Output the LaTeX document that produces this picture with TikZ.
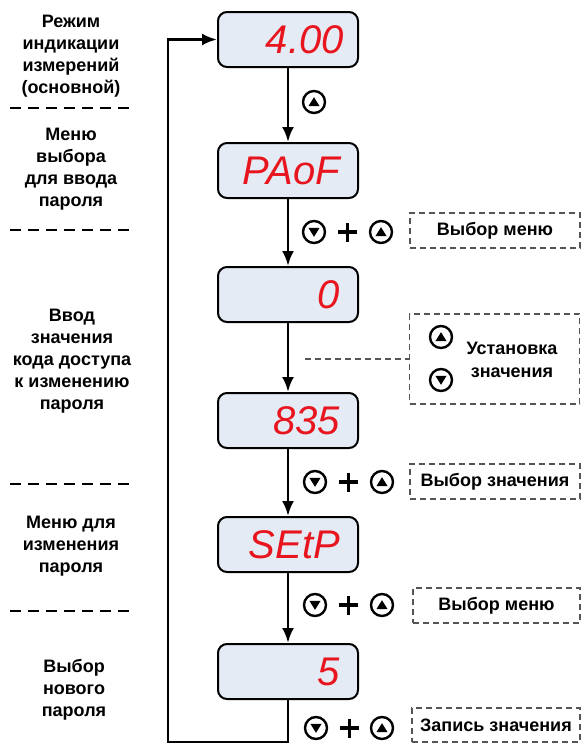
\documentclass[tikz,border=0pt]{standalone}
\usepackage{fontspec}
\setmainfont{Liberation Sans}
\usetikzlibrary{arrows.meta,calc}
\definecolor{segred}{HTML}{E8141E}
\definecolor{dispfill}{HTML}{E4EBF4}
\definecolor{dashgray}{HTML}{555555}
\begin{document}
\begin{tikzpicture}[x=1pt,y=-1pt,
  disp/.style={draw, line width=2pt, rounded corners=9pt, fill=dispfill, minimum width=140pt, minimum height=55pt, inner sep=0pt},
  seg/.style={text=segred, font=\fontsize{40}{40}\selectfont\itshape, anchor=base east, inner sep=0pt},
  flow/.style={line width=2.8pt, -{Latex[length=15pt,width=12pt]}},
  lbl/.style={align=center, font=\bfseries\fontsize{18}{22}\selectfont, inner sep=0pt},
  sep/.style={line width=1.8pt, dash pattern=on 11pt off 7pt},
  hint/.style={draw=dashgray, line width=1.4pt, dash pattern=on 6pt off 4pt, font=\bfseries\fontsize{18}{20}\selectfont, inner sep=0pt},
  hintline/.style={draw=dashgray, line width=1.4pt, dash pattern=on 6pt off 4pt},
  btn/.style={circle, draw, line width=2.4pt, minimum size=22pt, inner sep=0pt},
  btnup/.style={btn, path picture={\fill ([yshift=4.8pt]path picture bounding box.center) -- ++(-5.6pt,-9pt) -- ++(11.2pt,0pt) -- cycle;}},
  btndn/.style={btn, path picture={\fill ([yshift=-4.8pt]path picture bounding box.center) -- ++(-5.6pt,9pt) -- ++(11.2pt,0pt) -- cycle;}},
  plusmark/.style={minimum size=19pt, inner sep=0pt, path picture={
      \draw[line width=3.6pt] ([xshift=-9.5pt]path picture bounding box.center) -- ([xshift=9.5pt]path picture bounding box.center);
      \draw[line width=3.6pt] ([yshift=-9.5pt]path picture bounding box.center) -- ([yshift=9.5pt]path picture bounding box.center);}}
]
\useasboundingbox (0,0) rectangle (581,744);

% displays
\node[disp] (d1) at (288,39.5) {};
\node[disp] (d2) at (288,170.5) {};
\node[disp] (d3) at (288,294.5) {};
\node[disp] (d4) at (288,420.5) {};
\node[disp] (d5) at (288,544.5) {};
\node[disp] (d6) at (288,671.5) {};
\node[seg] (t1) at (344,53.8) {4.00};
\node[seg] (t2) at (340,184.8) {PAoF};
\node[seg] (t3) at (340,308.8) {0};
\node[seg] (t4) at (340,434.8) {835};
\node[seg] (t5) at (340,558.8) {SEtP};
\node[seg] (t6) at (340,685.8) {5};

% flow arrows
\draw[flow] (d1.south) -- (d2.north);
\draw[flow] (d2.south) -- (d3.north);
\draw[flow] (d3.south) -- (d4.north);
\draw[flow] (d4.south) -- (d5.north);
\draw[flow] (d5.south) -- (d6.north);
\coordinate (lb) at (288,742);
\coordinate (ll) at (168,742);
\coordinate (lt) at (168,39.5);
\draw[flow] (d6.south) -- (lb) -- (ll) -- (lt) -- (d1.west);

% left labels
\node[lbl] (l1) at (71,56) {Режим\\индикации\\измерений\\(основной)};
\node[lbl] (l2) at (71,169) {Меню\\выбора\\для ввода\\пароля};
\node[lbl] (l3) at (72,361) {Ввод\\значения\\кода доступа\\к изменению\\пароля};
\node[lbl] (l4) at (71,546.5) {Меню для\\изменения\\пароля};
\node[lbl] (l5) at (74,689.5) {Выбор\\нового\\пароля};
\draw[sep] (10,108) -- (132,108);
\draw[sep] (10,230) -- (132,230);
\draw[sep] (10,484) -- (132,484);
\draw[sep] (10,611) -- (132,611);

% buttons
\node[btnup] (u1) at (314,102) {};

\node[btndn] (n2) at (314,232) {};
\node[plusmark] (p2) at (347.5,232) {};
\node[btnup] (u2) at (381,232) {};
\node[hint, minimum width=170pt, minimum height=35pt] (h1) at (495,230.5) {Выбор меню};

\node[hint, minimum width=170pt, minimum height=90pt] (h2) at (494.5,359) {};
\coordinate (dc) at (305,359);
\draw[hintline] (dc) -- (h2.west);
\node[btnup] (u3) at (441,337) {};
\node[btndn] (n3) at (441,380) {};
\node[lbl, font=\bfseries\fontsize{18}{23}\selectfont] (s3) at (512,359.5) {Установка\\значения};

\node[btndn] (n4) at (315,482) {};
\node[plusmark] (p4) at (348.5,482) {};
\node[btnup] (u4) at (382,482) {};
\node[hint, minimum width=170pt, minimum height=35pt] (h3) at (495,481.5) {Выбор значения};

\node[btndn] (n5) at (315,605) {};
\node[plusmark] (p5) at (348.5,605) {};
\node[btnup] (u5) at (382,605) {};
\node[hint, minimum width=167pt, minimum height=35pt] (h4) at (496.5,605.5) {Выбор меню};

\node[btndn] (n6) at (316,728) {};
\node[plusmark] (p6) at (349.5,728) {};
\node[btnup] (u6) at (382,728) {};
\node[hint, minimum width=168pt, minimum height=34pt] (h5) at (496,725) {Запись значения};
\end{tikzpicture}
\end{document}
